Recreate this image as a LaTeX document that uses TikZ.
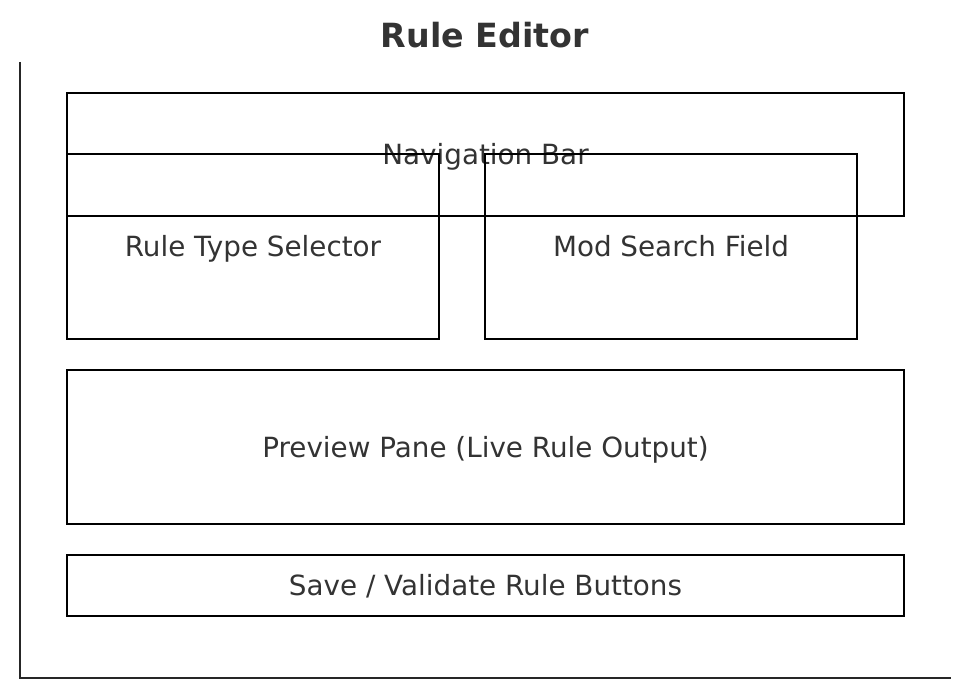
\documentclass[tikz,border=0pt]{standalone}
\usepackage{fontspec}
\setmainfont{DejaVu Sans}
\usepackage{tikz}
\definecolor{labelgray}{HTML}{333333}
\tikzset{panel/.style={draw=black, line width=2.7pt, text=labelgray,
    font=\fontsize{27.8}{33}\selectfont, text height=21pt, text depth=1pt, inner sep=0pt}}

\begin{document}
\begin{tikzpicture}[x=1pt,y=-1pt]
        \useasboundingbox (0,0) rectangle (969,698);
        % Title
        \node[text=labelgray, font=\fontsize{33.3}{40}\selectfont\bfseries] (title) at (485,35) {Rule Editor};

        % Axes
        \coordinate (top) at (20,62);
        \coordinate (origin) at (20,678);
        \coordinate (right) at (951,678);
        \draw[line width=2.7pt, black!85] (top) -- (origin) -- (right);

        % Panels
        \node[panel, minimum width=837pt, minimum height=123pt] (nav) at (485.5,154.5) {Navigation Bar};
        \node[panel, minimum width=372pt, minimum height=185pt] (ruletype) at (253,246.5) {Rule Type Selector};
        \node[panel, minimum width=372pt, minimum height=185pt] (modsearch) at (671,246.5) {Mod Search Field};
        \node[panel, minimum width=837pt, minimum height=154pt] (preview) at (485.5,447) {Preview Pane (Live Rule Output)};
        \node[panel, minimum width=837pt, minimum height=61pt] (savebtns) at (485.5,585.5) {Save / Validate Rule Buttons};
    \end{tikzpicture}
\end{document}
